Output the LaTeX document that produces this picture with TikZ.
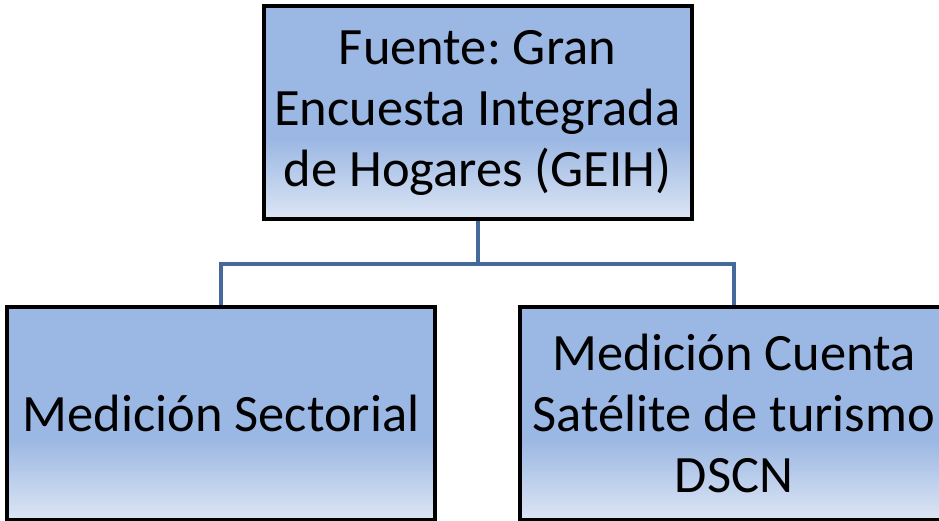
\documentclass[tikz,border=0pt]{standalone}
\usepackage{fontspec}
\setmainfont{Carlito}
\frenchspacing
\definecolor{boxblue}{HTML}{9BB7E3}
\definecolor{boxlight}{HTML}{DDE6F4}
\definecolor{linkblue}{HTML}{46699C}
\pgfdeclareverticalshading{boxfade}{100bp}{color(0bp)=(boxlight); color(25bp)=(boxlight); color(44bp)=(boxblue); color(100bp)=(boxblue)}
\begin{document}
\begin{tikzpicture}[x=1pt,y=1pt,
    block/.style = {draw=black,line width=4pt,shading=boxfade,minimum width=428pt,minimum height=213pt,
                    align=center,inner sep=0pt,font=\fontsize{52.5}{61}\selectfont},
    link/.style = {draw=linkblue,line width=4pt}]
                        \useasboundingbox (0,0) rectangle (939,520);
                        \clip (0,0) rectangle (939,520);

                        \node[block] (source) at (477.5,407) {Fuente: Gran\\Encuesta Integrada\\de Hogares (GEIH)};
                        \node[block] (sector) at (221,106.5) {Medición Sectorial};
                        \node[block] (satellite) at (734,106.5) {Medición Cuenta\\Satélite de turismo\\DSCN};

                        \coordinate (fork) at (477.5,256);
                        \draw[link] (source.south) -- (fork) -| (sector.north);
                        \draw[link] (fork) -| (satellite.north);
                    \end{tikzpicture}
\end{document}
